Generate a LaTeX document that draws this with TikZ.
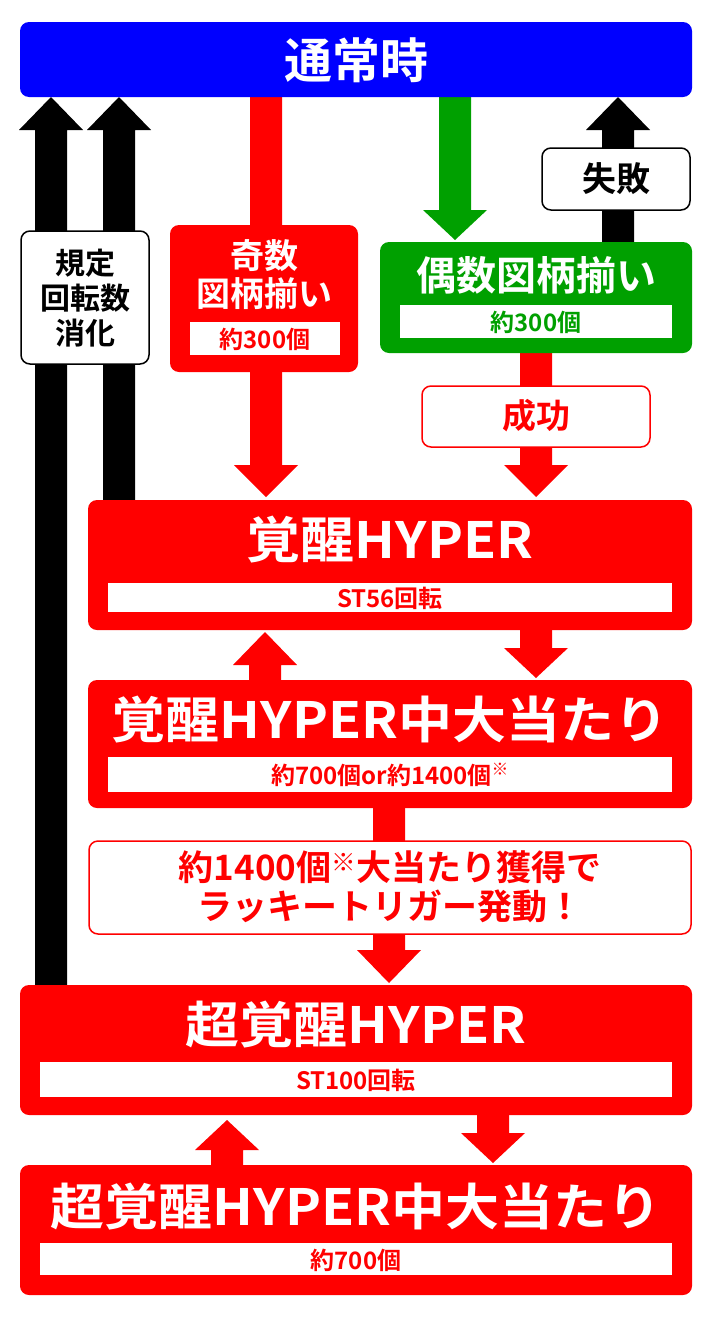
\documentclass[tikz,border=0pt]{standalone}
\usepackage{fontspec}
\setmainfont{Noto Sans CJK JP}[BoldFont={Noto Sans CJK JP Bold}]
\definecolor{rd}{HTML}{FF0000}
\definecolor{bl}{HTML}{0000FF}
\definecolor{gr}{HTML}{00A000}
% block arrow: x, tip y, head base y, tail y, colour
\newcommand\blkarr[5]{\fill[#5] (#1-16,#4) -- (#1-16,#3) -- (#1-32,#3) -- (#1,#2) -- (#1+32,#3) -- (#1+16,#3) -- (#1+16,#4) -- cycle;}
\begin{document}
\begin{tikzpicture}[x=1pt,y=-1pt,
  box/.style={rounded corners=9pt},
  inner/.style={fill=white,draw=none},
  t/.style={font=\bfseries, inner sep=0},
  big/.style={t,white,xscale=1.08,font=\bfseries\fontsize{50}{50}\selectfont},
  small/.style={t,font=\bfseries\fontsize{24}{24}\selectfont},
]
\useasboundingbox (0,0) rectangle (712,1317);
% arrows
\blkarr{51}{97}{130}{990}{black}
\blkarr{119}{97}{130}{505}{black}
\blkarr{266}{497}{465}{90}{rd}
\blkarr{455}{240}{210}{90}{gr}
\blkarr{618}{97}{130}{250}{black}
\blkarr{536}{497}{465}{345}{rd}
\blkarr{265}{632}{665}{685}{rd}
\blkarr{536}{678}{648}{625}{rd}
\blkarr{389}{983}{950}{800}{rd}
\blkarr{227}{1120}{1150}{1170}{rd}
\blkarr{493}{1163}{1133}{1110}{rd}
% top
\fill[bl,box] (20,22) rectangle (692,97);
\node[t,white,font=\bfseries\fontsize{48}{48}\selectfont] (top) at (356,60) {通常時};
% labels
\draw[black,line width=1.5pt,fill=white,box] (21,231) rectangle (149,364);
\node[t,align=center,font=\bfseries\fontsize{30}{35}\selectfont] (kitei) at (85,298) {規定\\回転数\\消化};
\draw[black,line width=1.5pt,fill=white,box] (542,148) rectangle (690,210);
\node[t,font=\bfseries\fontsize{34}{34}\selectfont] (sippai) at (616,179) {失敗};
% odd
\fill[rd,box] (170,225) rectangle (358,372);
\node[t,white,align=center,font=\bfseries\fontsize{34}{38}\selectfont] (odd) at (264,275) {奇数\\図柄揃い};
\fill[inner] (190,322) rectangle (340,355);
\node[small,rd] (odd2) at (265,339) {約300個};
% even
\fill[gr,box] (380,242) rectangle (692,353);
\node[t,white,font=\bfseries\fontsize{40}{40}\selectfont] (even) at (536,275) {偶数図柄揃い};
\fill[inner] (400,305) rectangle (672,338);
\node[small,gr] (even2) at (536,322) {約300個};
% success
\draw[rd,line width=1.5pt,fill=white,box] (422,386) rectangle (650,447);
\node[t,rd,font=\bfseries\fontsize{34}{34}\selectfont] (seiko) at (536,416) {成功};
% kakusei
\fill[rd,box] (88,500) rectangle (692,630);
\node[big] (k1) at (390,540) {覚醒HYPER};
\fill[inner] (108,583) rectangle (672,612);
\node[small,rd] (k1b) at (390,598) {ST56回転};
\fill[rd,box] (88,680) rectangle (692,808);
\node[big] (k2) at (390,720) {覚醒HYPER中大当たり};
\fill[inner] (108,757) rectangle (672,792);
\node[small,rd] (k2b) at (390,775) {約700個or約1400個\textsuperscript{※}};
% lucky
\draw[rd,line width=1.5pt,fill=white,box] (89,841) rectangle (691,934);
\node[t,rd,align=center,font=\bfseries\fontsize{35}{39}\selectfont] (lucky) at (390,887) {約1400個\textsuperscript{※}大当たり獲得で\\ラッキートリガー発動！};
% super
\fill[rd,box] (20,985) rectangle (692,1115);
\node[big] (s1) at (356,1025) {超覚醒HYPER};
\fill[inner] (40,1062) rectangle (672,1097);
\node[small,rd] (s1b) at (356,1080) {ST100回転};
\fill[rd,box] (20,1165) rectangle (692,1295);
\node[big] (s2) at (356,1207) {超覚醒HYPER中大当たり};
\fill[inner] (40,1243) rectangle (672,1275);
\node[small,rd] (s2b) at (356,1260) {約700個};
\end{tikzpicture}
\end{document}
